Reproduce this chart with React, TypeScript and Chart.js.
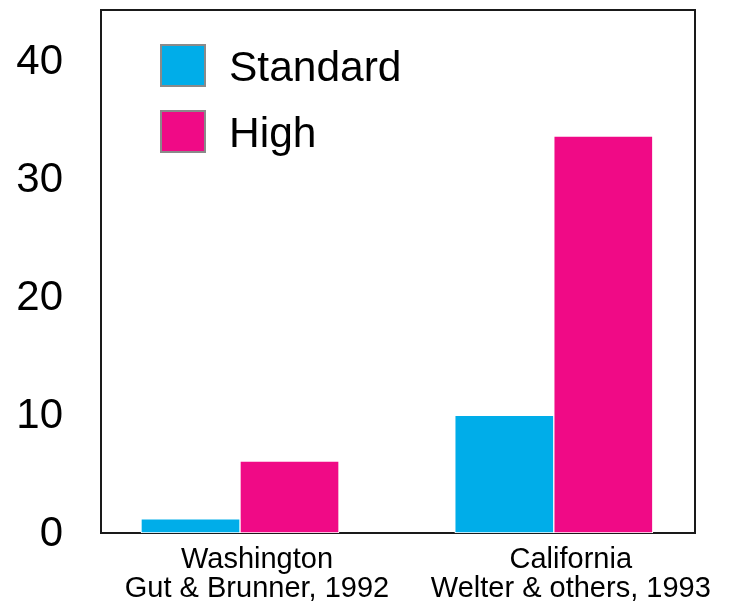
import React, { useEffect, useRef } from "react";
import { Chart, registerables } from "chart.js";

Chart.register(...registerables);

const categories: string[][] = [
  ["Washington", "Gut & Brunner, 1992"],
  ["California", "Welter & others, 1993"],
];
const seriesNames = ["Standard", "High"];
const standardValues = [1.2, 10.0];
const highValues = [6.1, 33.7];
const yTickValues = [0, 10, 20, 30, 40];

const COLORS = ["#00ADE9", "#F00A86"];
const FONT = '"Liberation Sans", Arial, sans-serif';

const frameAndLegend = {
  id: "frameAndLegend",
  beforeDatasetsDraw(chart: any) {
    const { ctx, chartArea } = chart;
    ctx.save();
    ctx.strokeStyle = "#1a1a1a";
    ctx.lineWidth = 2;
    ctx.strokeRect(chartArea.left, chartArea.top, chartArea.right - chartArea.left, chartArea.bottom - chartArea.top);
    ctx.restore();
  },
  afterDatasetsDraw(chart: any) {
    const { ctx, chartArea } = chart;
    ctx.save();
    chart.data.datasets.forEach((ds: any, i: number) => {
      const x = chartArea.left + 59;
      const top = chartArea.top + 34 + i * 66;
      ctx.fillStyle = ds.backgroundColor;
      ctx.fillRect(x, top, 46, 43);
      ctx.strokeStyle = "#8a8a8a";
      ctx.lineWidth = 2;
      ctx.strokeRect(x + 1, top + 1, 44, 41);
      ctx.fillStyle = "#000";
      ctx.font = `42.5px ${FONT}`;
      ctx.textBaseline = "alphabetic";
      ctx.textAlign = "left";
      ctx.fillText(ds.label, x + 69, top + 37);
    });
    ctx.restore();
  },
};

export default function App() {
  const ref = useRef<HTMLCanvasElement | null>(null);

  useEffect(() => {
    if (!ref.current) return;
    const mk = (vals: number[]) => vals.map((v, i) => ({ x: i, y: v }));
    const chart = new Chart(ref.current, {
      type: "bar",
      data: {
        datasets: [
          {
            label: seriesNames[0],
            data: mk(standardValues) as any,
            backgroundColor: COLORS[0],
            borderColor: "#ffffff",
            borderWidth: 1,
            borderSkipped: false,
            barThickness: 99,
          },
          {
            label: seriesNames[1],
            data: mk(highValues) as any,
            backgroundColor: COLORS[1],
            borderColor: "#ffffff",
            borderWidth: 1,
            borderSkipped: false,
            barThickness: 99,
          },
        ],
      },
      options: {
        animation: false,
        responsive: true,
        maintainAspectRatio: false,
        layout: { padding: { top: 10, right: 34, left: 0, bottom: 0 } },
        plugins: {
          legend: { display: false },
          tooltip: { enabled: false },
        },
        scales: {
          x: {
            type: "linear",
            offset: false,
            min: -0.443,
            max: 1.45,
            grid: { display: false, drawTicks: false },
            border: { display: false },
            afterBuildTicks: (scale: any) => {
              scale.ticks = categories.map((_, i) => ({ value: i }));
            },
            afterFit: (scale: any) => {
              scale.height = 73;
              scale.paddingLeft = 0;
              scale.paddingRight = 0;
              scale.paddingTop = 0;
              scale.paddingBottom = 0;
            },
            ticks: {
              autoSkip: false,
              maxRotation: 0,
              minRotation: 0,
              padding: 12,
              labelOffset: 17,
              color: "#000",
              font: { family: FONT, size: 29, lineHeight: 1.0 },
              callback: (v: any) => categories[Math.round(Number(v))] ?? "",
            },
          },
          y: {
            min: 0,
            max: 44.4,
            grid: { display: false, drawTicks: false },
            border: { display: false },
            afterBuildTicks: (scale: any) => {
              scale.ticks = yTickValues.map((v) => ({ value: v }));
            },
            afterFit: (scale: any) => {
              scale.width = 101;
              scale.paddingTop = 0;
              scale.paddingBottom = 0;
              scale.paddingLeft = 0;
              scale.paddingRight = 0;
            },
            ticks: {
              padding: 38,
              labelOffset: 1,
              color: "#000",
              font: { family: FONT, size: 42 },
            },
          },
        },
      },
      plugins: [frameAndLegend],
    });
    return () => chart.destroy();
  }, []);

  return (
    <div style={{ position: "fixed", left: 0, top: 0, width: 729, height: 606, background: "#fff" }}>
      <canvas ref={ref} />
    </div>
  );
}
